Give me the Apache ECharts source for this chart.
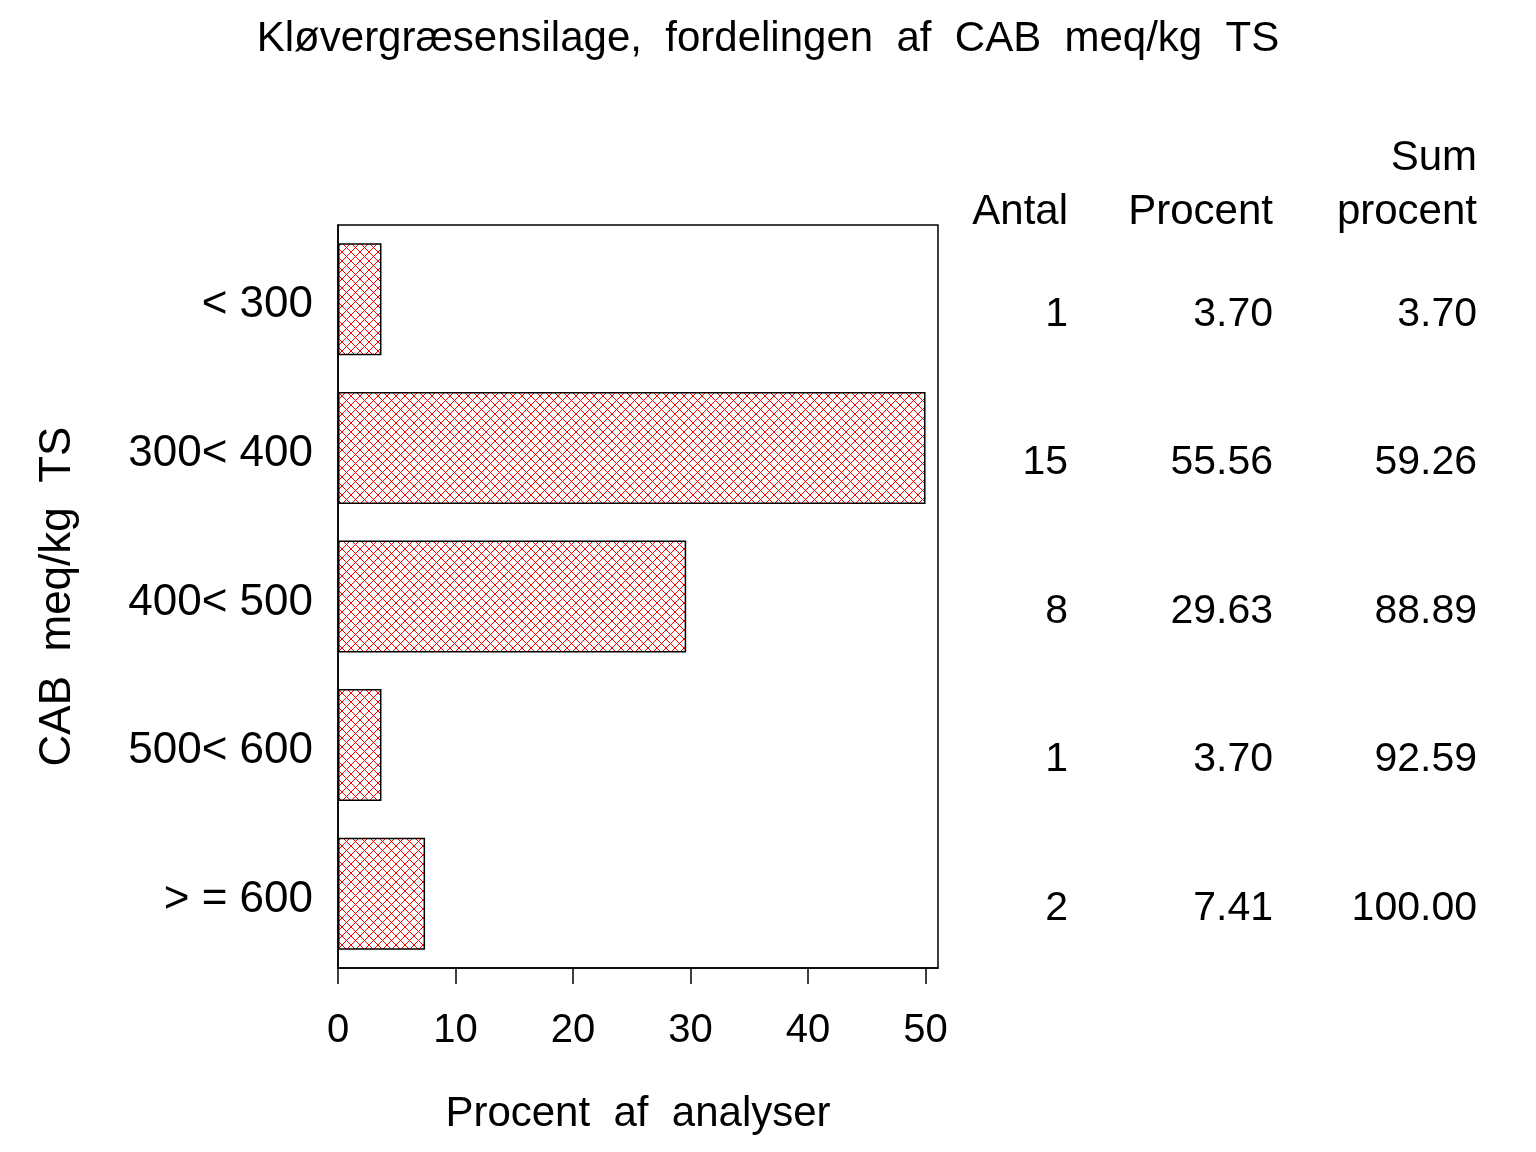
<!DOCTYPE html>
<html>
<head>
<meta charset="utf-8">
<script src="https://cdn.jsdelivr.net/npm/echarts@6/dist/echarts.min.js"></script>
<style>
html,body{margin:0;padding:0;background:#fff;}
#chart{width:1536px;height:1152px;}
</style>
</head>
<body>
<div id="chart"></div>
<script>
// ---- data ----
var categories = ['< 300', '300< 400', '400< 500', '500< 600', '> = 600'];
var antal = [1, 15, 8, 1, 2];
var procent = [3.70, 55.56, 29.63, 3.70, 7.41];
var sumProcent = [3.70, 59.26, 88.89, 92.59, 100.00];
var xTicks = [0, 10, 20, 30, 40, 50];
var axisCap = 50; // bars are drawn no further than the last tick

var FONT = '"Liberation Sans", Arial, Helvetica, sans-serif';

// red cross-hatch pattern
var pc = document.createElement('canvas');
pc.width = 9; pc.height = 9;
var g = pc.getContext('2d');
g.fillStyle = '#ff0000';
for (var i = 0; i < 9; i++) {
  g.fillRect(i, i, 1, 1);
  g.fillRect(8 - i, i, 1, 1);
}

var chart = echarts.init(document.getElementById('chart'), null, {renderer: 'canvas'});

var option = {
  animation: false,
  backgroundColor: '#ffffff',
  title: {
    text: 'Kløvergræsensilage,  fordelingen  af  CAB  meq/kg  TS',
    left: 'center',
    top: 13,
    textStyle: {fontFamily: FONT, fontSize: 42, fontWeight: 'normal', color: '#000'}
  },
  grid: {
    left: 338, top: 225, width: 600, height: 743,
    show: true, borderColor: '#000', borderWidth: 1.5, backgroundColor: 'transparent'
  },
  xAxis: {
    type: 'value',
    min: 0,
    max: 51.06,
    interval: 10,
    name: 'Procent  af  analyser',
    nameLocation: 'middle',
    nameGap: 125,
    nameTextStyle: {fontFamily: FONT, fontSize: 42, color: '#000'},
    axisLine: {show: true, lineStyle: {color: '#000', width: 1.5}},
    axisTick: {show: true, length: 16, lineStyle: {color: '#000', width: 1.5}},
    splitLine: {show: false},
    axisLabel: {
      fontFamily: FONT, fontSize: 40, color: '#000', margin: 43,
      showMaxLabel: false,
      formatter: function (v) { return xTicks.indexOf(v) >= 0 ? String(v) : ''; }
    }
  },
  yAxis: {
    type: 'category',
    data: categories,
    inverse: true,
    name: 'CAB  meq/kg  TS',
    nameLocation: 'middle',
    nameGap: 258,
    nameTextStyle: {fontFamily: FONT, fontSize: 44, color: '#000'},
    axisLine: {show: true, lineStyle: {color: '#000', width: 1.5}},
    axisTick: {show: false},
    splitLine: {show: false},
    axisLabel: {
      color: '#000', margin: 25,
      formatter: function (v) { return '{c|' + v + '}'; },
      rich: {c: {fontFamily: FONT, fontSize: 44, color: '#000', padding: [12, 0, 0, 0]}}
    }
  },
  series: [{
    type: 'bar',
    data: procent.map(function (v) { return Math.min(v, axisCap); }),
    barCategoryGap: '24.6%',
    itemStyle: {
      color: {image: pc, repeat: 'repeat'},
      borderColor: '#000',
      borderWidth: 1.5
    },
    silent: true
  }]
};
chart.setOption(option);

// ---- table on the right, rows aligned to the category axis ----
var colRight = [1068, 1273, 1477];
var els = [];
function txt(x, y, s, size) {
  els.push({
    type: 'text', x: x, y: y, silent: true,
    style: {text: s, fontFamily: FONT, fontSize: size, fill: '#000', align: 'right', verticalAlign: 'middle'}
  });
}
txt(colRight[2], 158, 'Sum', 42);
txt(colRight[0], 212, 'Antal', 42);
txt(colRight[1], 212, 'Procent', 42);
txt(colRight[2], 212, 'procent', 42);
for (var k = 0; k < categories.length; k++) {
  var y = chart.convertToPixel({yAxisIndex: 0}, k) + 15;
  txt(colRight[0], y, String(antal[k]), 41);
  txt(colRight[1], y, procent[k].toFixed(2), 41);
  txt(colRight[2], y, sumProcent[k].toFixed(2), 41);
}
chart.setOption({graphic: {elements: els}});
</script>
</body>
</html>
